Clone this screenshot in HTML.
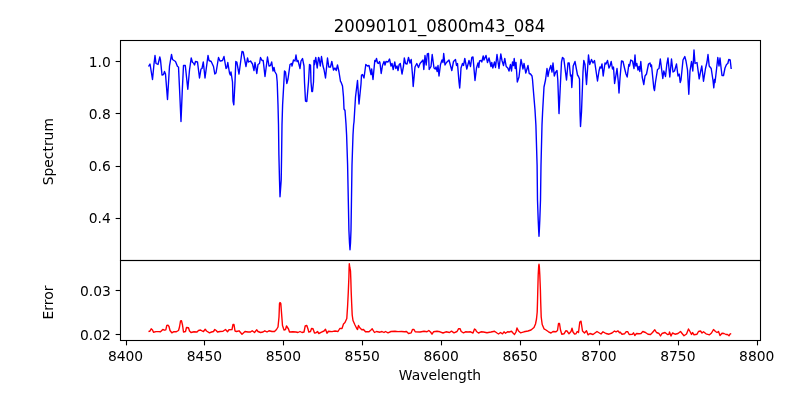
<!DOCTYPE html><html><head><meta charset="utf-8"><title>20090101_0800m43_084</title>
<style>html,body{margin:0;padding:0;background:#fff}svg{display:block;will-change:transform}text{font-family:"DejaVu Sans","Liberation Sans",sans-serif;fill:#000}</style></head><body>
<svg width="800" height="400" viewBox="0 0 800 400">
<rect width="800" height="400" fill="#fff"/>
<polyline fill="none" stroke="#0000ff" stroke-width="1.39" stroke-linejoin="round" points="148.50,66.50 150.00,64.00 150.50,67.00 152.50,79.50 154.00,64.00 155.00,55.50 156.00,63.50 158.00,64.50 159.80,57.00 160.50,60.00 162.00,75.00 163.50,74.50 164.50,71.50 165.50,74.00 167.50,99.50 169.50,66.00 171.50,54.50 172.50,59.50 175.50,61.50 177.50,66.50 178.50,67.00 179.60,90.00 181.00,121.50 182.30,90.00 183.50,65.50 185.30,65.50 187.80,89.20 189.50,70.00 191.20,58.00 192.50,62.50 193.50,63.00 194.50,65.00 195.50,61.50 197.50,62.00 199.50,78.00 201.00,69.00 202.00,68.50 203.30,62.00 205.00,78.00 208.00,55.50 209.00,60.50 211.20,61.50 213.50,66.50 214.80,74.00 216.00,73.00 218.50,57.50 220.00,61.00 220.50,61.00 222.50,60.50 224.00,56.50 226.00,68.50 226.80,68.00 227.80,62.50 229.50,73.00 230.30,75.00 231.00,72.00 232.50,82.00 233.00,101.00 233.80,104.80 235.00,82.00 235.80,61.50 236.80,62.00 239.00,74.00 242.00,51.50 243.20,52.00 246.00,66.50 247.50,58.00 248.50,62.00 250.50,61.00 252.50,64.00 254.00,70.50 255.00,62.50 256.80,73.50 258.00,64.50 259.50,63.50 260.50,57.50 262.00,60.50 263.20,60.50 265.00,76.50 267.50,57.00 269.00,66.00 270.50,65.50 271.70,62.00 273.00,71.00 274.00,67.50 274.80,71.50 276.50,74.50 277.20,82.00 278.00,105.00 278.50,125.00 278.90,155.00 279.50,180.00 280.00,196.70 281.20,180.00 281.60,155.00 282.00,125.00 282.60,105.00 283.90,82.00 284.50,71.00 285.50,72.00 286.80,83.50 288.00,79.00 290.00,64.50 291.50,63.50 292.00,66.00 293.50,60.00 295.00,61.00 296.00,55.00 297.00,61.50 298.00,60.50 300.00,68.50 301.00,61.00 302.50,58.50 304.00,66.00 304.50,82.00 305.50,101.00 306.80,101.50 308.50,82.00 309.50,64.50 310.50,65.00 311.00,82.00 311.80,91.50 312.50,91.50 313.50,82.00 314.00,60.50 314.50,64.50 315.80,57.50 317.20,68.00 318.50,57.50 319.00,58.00 320.30,66.00 321.50,56.50 323.00,66.00 324.00,69.50 325.50,78.00 327.50,58.00 328.80,67.00 330.50,67.00 331.80,61.50 333.50,70.00 335.00,68.00 336.20,70.50 337.50,65.00 339.00,72.00 340.50,81.50 341.00,82.00 342.50,86.00 343.50,97.00 344.00,109.00 345.00,110.50 346.00,124.00 346.60,135.00 347.60,165.00 348.40,205.00 348.90,230.00 349.50,243.00 350.00,249.80 350.50,243.00 351.00,230.00 351.40,205.00 352.00,165.00 353.00,135.00 353.60,125.00 354.00,122.00 355.50,97.00 357.50,80.50 359.00,104.00 361.00,84.00 361.50,75.00 362.50,74.50 364.00,78.00 365.80,64.50 367.50,66.00 369.00,65.50 371.00,74.50 371.70,69.00 373.00,79.50 374.80,60.50 375.50,61.50 376.50,58.50 377.50,63.00 378.50,63.50 379.50,61.50 380.00,63.00 381.20,73.50 382.50,65.50 384.00,61.50 385.00,65.00 386.00,61.50 388.00,62.00 389.50,59.00 391.00,66.00 392.00,63.50 393.20,69.50 394.80,62.00 395.80,68.50 397.00,66.00 398.00,70.50 399.20,64.50 400.30,63.50 402.00,74.00 403.50,66.00 404.30,58.00 405.50,63.50 407.00,64.00 408.50,57.50 410.00,63.00 411.20,59.50 412.50,75.00 413.20,86.50 414.00,78.00 415.00,67.00 416.80,63.50 418.50,67.50 420.00,63.50 423.00,60.00 423.80,69.50 425.00,55.50 426.20,65.00 427.30,54.00 428.50,53.50 429.20,69.50 431.00,66.50 432.20,54.50 434.00,68.00 435.20,69.00 436.00,67.00 437.20,71.50 438.00,65.50 439.00,76.00 440.50,64.50 442.00,60.00 443.00,62.50 443.70,53.50 445.00,65.00 446.50,62.50 449.00,60.00 451.80,70.50 453.50,61.50 455.50,59.50 456.50,65.50 457.50,63.50 459.00,82.00 459.70,88.00 460.30,80.00 461.00,68.00 462.50,63.50 463.50,65.50 464.80,58.50 466.80,69.00 469.00,60.50 470.50,66.50 471.80,57.50 473.00,57.00 475.00,80.50 476.50,68.00 478.00,63.00 478.80,67.50 479.50,61.00 481.00,60.50 481.80,62.00 483.20,56.00 484.00,60.00 486.00,55.50 487.50,62.50 489.00,58.00 491.00,66.50 491.80,62.50 492.80,68.00 494.50,62.00 495.50,67.50 497.00,54.50 499.00,68.50 500.80,54.00 502.00,60.50 503.50,65.50 504.80,58.50 506.20,66.50 507.80,68.00 509.00,71.00 510.50,64.50 511.50,71.00 512.50,62.00 513.50,65.50 514.20,58.50 515.20,68.50 516.00,62.50 517.30,82.00 519.00,77.00 521.00,59.50 523.00,69.00 524.00,63.50 525.80,73.00 528.00,65.50 529.20,73.50 530.50,74.00 532.00,76.00 532.50,79.50 533.50,92.00 535.00,110.00 535.90,125.00 537.10,165.00 537.50,200.00 538.20,220.00 538.70,231.00 539.00,236.30 539.30,231.00 539.80,220.00 540.50,200.00 541.00,165.00 542.00,125.00 542.60,112.00 544.00,87.00 545.50,80.00 547.00,68.50 548.00,76.50 549.00,71.00 550.80,65.50 552.00,72.00 553.00,63.00 554.30,76.00 555.50,72.50 557.00,70.50 557.80,80.00 559.00,113.60 560.50,82.00 561.50,62.00 562.50,57.50 563.80,58.50 566.50,80.00 568.00,63.00 569.20,63.00 570.50,76.00 571.20,75.00 571.80,87.50 573.20,66.00 575.00,61.50 577.50,75.00 578.50,76.50 579.50,79.00 580.00,112.00 580.50,126.50 581.50,112.00 583.00,72.00 583.80,60.50 585.00,64.50 586.50,84.50 588.50,55.00 589.70,64.50 591.50,59.50 593.00,63.00 594.50,60.50 597.50,81.00 599.00,71.00 600.00,67.00 601.00,68.00 602.00,64.00 603.20,76.00 605.00,63.00 606.00,64.00 607.50,60.50 609.00,68.00 610.00,66.00 611.20,61.50 612.50,69.00 613.50,67.00 614.60,83.50 617.00,68.50 618.30,82.00 619.00,93.00 620.00,78.00 621.50,61.00 623.00,61.50 624.50,68.00 626.00,74.00 627.20,77.00 628.80,64.50 629.50,66.00 630.80,60.00 632.50,61.00 634.00,68.50 635.00,55.00 635.80,66.00 636.80,63.50 638.00,70.00 639.00,66.50 639.80,71.50 640.80,61.50 642.20,77.00 643.80,84.50 645.00,76.00 646.50,74.00 648.50,64.00 650.00,63.00 650.80,66.50 651.50,65.00 653.00,80.00 653.80,88.00 654.50,90.50 655.50,82.00 657.50,69.50 659.00,68.50 660.30,59.00 662.80,78.50 663.80,71.00 665.50,76.50 666.80,64.50 668.00,58.00 669.80,77.00 671.50,59.00 673.00,72.00 674.50,71.00 676.50,64.00 678.00,76.00 679.20,74.00 680.20,82.50 681.00,80.00 683.00,60.00 684.80,56.50 686.00,61.00 687.50,70.00 688.80,94.20 690.00,71.00 691.50,61.50 692.80,71.00 694.00,50.00 695.00,63.50 697.00,62.50 699.20,78.80 700.50,72.00 701.80,66.00 703.50,81.20 705.50,68.50 707.00,62.00 708.00,54.50 709.20,66.00 711.20,68.50 713.00,80.50 713.80,87.80 714.50,79.50 715.00,82.50 716.50,69.50 717.80,57.50 719.00,66.00 720.00,58.00 721.20,69.00 722.00,75.50 723.50,75.50 725.00,68.00 726.50,64.50 727.80,63.50 728.80,59.50 730.20,60.00 731.20,69.00"/>
<polyline fill="none" stroke="#ff0000" stroke-width="1.39" stroke-linejoin="round" points="148.50,331.70 150.00,331.00 151.20,328.80 152.50,330.00 153.50,332.20 156.00,331.60 158.50,331.60 160.50,331.80 162.80,329.50 164.50,330.20 165.80,329.80 166.80,325.50 168.00,325.20 169.00,326.50 170.00,330.50 171.80,332.80 173.50,331.80 176.00,331.80 178.50,330.50 179.50,327.00 180.50,321.00 181.50,320.80 182.50,325.00 183.50,332.00 185.50,331.50 186.50,327.50 188.50,327.80 189.50,331.00 191.00,332.50 194.00,331.80 197.00,332.00 198.50,330.50 200.50,330.00 202.00,330.80 203.50,331.50 205.20,329.20 206.50,331.00 209.50,332.80 211.50,332.00 213.50,331.50 214.80,329.50 216.20,330.50 217.50,332.00 220.00,331.50 223.00,331.30 225.50,329.50 227.50,331.70 229.00,329.80 232.00,329.50 233.00,324.50 234.00,324.50 235.00,331.00 236.50,331.50 239.00,330.80 242.00,334.20 245.00,331.50 248.00,332.00 250.50,332.00 252.20,330.80 254.50,332.50 256.80,329.80 258.00,331.50 260.50,332.50 263.00,332.00 264.80,330.80 267.00,332.00 269.00,330.80 272.00,331.50 274.50,331.50 276.50,329.50 278.00,327.00 279.00,317.00 279.50,303.50 280.00,302.50 280.80,303.50 281.30,310.00 282.50,325.50 284.00,330.00 285.50,329.50 286.50,326.00 288.50,329.00 289.50,332.00 293.00,331.80 296.00,332.00 298.00,332.50 300.00,331.50 302.00,332.50 304.00,332.00 305.20,326.00 306.80,325.50 308.00,329.00 308.80,332.00 310.50,331.50 311.50,328.50 313.00,328.80 314.50,333.00 316.00,332.80 317.50,331.50 318.80,333.50 321.50,332.20 324.00,331.00 325.50,329.20 327.00,333.20 328.50,331.30 332.00,331.60 335.00,331.00 338.00,331.50 339.80,328.50 342.00,328.50 343.50,324.00 345.00,322.50 346.80,318.50 347.60,306.00 348.30,292.00 348.90,277.00 349.10,268.00 349.30,263.80 349.80,267.50 350.50,271.00 350.85,280.00 351.20,292.00 351.70,304.00 352.20,315.00 353.00,320.50 355.00,325.00 356.50,328.00 357.50,329.50 358.50,325.50 360.00,328.00 361.80,329.80 363.50,329.50 365.50,331.80 369.00,331.80 371.00,330.00 372.20,328.80 374.50,332.50 376.50,331.50 380.00,332.20 382.00,331.50 384.00,332.50 385.50,331.50 388.00,332.80 391.00,331.50 395.00,331.20 398.00,331.60 401.50,331.50 404.50,331.80 406.50,331.50 408.50,333.50 411.20,332.80 412.50,329.50 414.00,329.50 415.20,331.80 420.00,332.00 424.00,331.20 427.00,331.80 428.80,330.50 430.50,332.00 432.00,334.20 433.50,331.80 437.00,331.20 440.00,331.80 443.00,333.00 446.00,331.80 449.50,332.50 451.50,331.20 454.00,332.80 457.00,331.50 458.50,328.80 460.00,328.60 461.20,331.50 463.50,332.80 465.50,331.80 468.00,332.00 470.50,331.80 473.00,333.00 474.50,329.00 475.50,329.50 476.50,331.50 478.50,333.00 481.00,331.80 483.50,332.00 487.00,332.80 491.00,332.00 494.50,331.20 497.00,333.00 498.50,334.00 500.50,332.50 502.50,333.80 504.00,331.80 505.50,333.20 507.50,331.80 509.50,332.00 511.50,331.20 513.00,333.00 514.50,334.50 516.00,332.00 517.00,328.00 518.50,331.00 520.50,332.80 524.00,331.80 528.00,331.00 531.00,330.00 534.00,327.50 535.50,324.00 536.50,319.00 537.20,312.00 537.50,302.00 537.80,290.00 538.20,275.00 538.70,266.00 539.00,264.30 539.30,266.00 539.80,275.00 540.40,290.00 540.70,302.00 541.20,317.00 542.20,324.50 544.00,328.80 546.00,330.00 548.50,331.80 551.00,333.00 553.00,331.50 556.00,331.80 557.50,330.50 558.50,323.50 559.50,323.50 560.50,330.00 561.80,334.20 564.00,333.80 565.80,330.80 567.00,331.00 569.00,333.80 571.00,331.50 572.00,328.20 573.00,332.00 574.50,334.00 576.00,333.80 577.20,331.50 578.50,332.50 579.80,322.00 581.00,321.20 582.50,331.00 584.50,333.00 586.50,330.80 588.00,334.80 590.00,333.50 593.00,334.50 597.00,331.50 601.00,334.00 603.00,331.80 606.00,333.50 609.00,334.20 612.00,333.00 614.50,331.00 616.00,331.80 618.00,330.80 619.50,332.80 620.00,332.00 622.00,334.20 624.50,333.80 626.00,331.80 627.80,331.80 629.20,334.50 632.50,334.20 633.50,332.80 634.80,335.50 636.50,333.50 639.00,333.80 641.00,333.50 642.80,331.50 645.50,332.50 648.00,334.20 650.50,334.50 652.50,332.50 654.80,329.80 656.50,332.50 659.00,333.50 660.50,336.00 662.00,333.50 665.00,332.50 667.50,334.50 669.00,334.20 669.50,332.00 671.00,336.00 672.50,333.00 675.00,334.20 678.00,333.50 680.50,331.50 682.50,334.00 684.00,335.80 686.50,334.00 688.50,329.00 690.00,331.50 691.50,334.50 692.50,332.50 694.00,334.80 697.00,334.20 698.50,331.50 700.50,331.00 702.00,333.00 703.50,331.80 706.00,333.80 709.50,334.80 711.50,333.00 713.50,329.50 715.50,331.50 717.00,332.50 718.50,331.50 720.00,335.50 722.00,333.20 724.00,333.50 726.00,334.50 727.50,334.50 729.00,335.80 730.00,334.20 731.20,333.50"/>
<g fill="none" stroke="#000" stroke-width="1.1" stroke-linecap="square"><rect x="120.5" y="40.5" width="640.0" height="220.0"/><rect x="120.5" y="260.5" width="640.0" height="80.0"/></g>
<g stroke="#000" stroke-width="1.1">
<line x1="126.5" x2="126.5" y1="340.5" y2="345.36"/>
<line x1="204.5" x2="204.5" y1="340.5" y2="345.36"/>
<line x1="283.5" x2="283.5" y1="340.5" y2="345.36"/>
<line x1="362.5" x2="362.5" y1="340.5" y2="345.36"/>
<line x1="441.5" x2="441.5" y1="340.5" y2="345.36"/>
<line x1="520.5" x2="520.5" y1="340.5" y2="345.36"/>
<line x1="599.5" x2="599.5" y1="340.5" y2="345.36"/>
<line x1="678.5" x2="678.5" y1="340.5" y2="345.36"/>
<line x1="757.5" x2="757.5" y1="340.5" y2="345.36"/>
<line x1="115.64" x2="120.5" y1="61.5" y2="61.5"/>
<line x1="115.64" x2="120.5" y1="113.5" y2="113.5"/>
<line x1="115.64" x2="120.5" y1="166.5" y2="166.5"/>
<line x1="115.64" x2="120.5" y1="218.5" y2="218.5"/>
<line x1="115.64" x2="120.5" y1="290.5" y2="290.5"/>
<line x1="115.64" x2="120.5" y1="334.5" y2="334.5"/>
</g>
<g font-size="13.89px">
<text x="125.55" y="361" text-anchor="middle">8400</text>
<text x="204.45" y="361" text-anchor="middle">8450</text>
<text x="283.35" y="361" text-anchor="middle">8500</text>
<text x="362.25" y="361" text-anchor="middle">8550</text>
<text x="441.15" y="361" text-anchor="middle">8600</text>
<text x="520.05" y="361" text-anchor="middle">8650</text>
<text x="598.95" y="361" text-anchor="middle">8700</text>
<text x="677.85" y="361" text-anchor="middle">8750</text>
<text x="756.75" y="361" text-anchor="middle">8800</text>
<text x="110.8" y="66.75" text-anchor="end">1.0</text>
<text x="110.8" y="118.75" text-anchor="end">0.8</text>
<text x="110.8" y="170.75" text-anchor="end">0.6</text>
<text x="110.8" y="222.75" text-anchor="end">0.4</text>
<text x="110.8" y="295.85" text-anchor="end">0.03</text>
<text x="110.8" y="339.75" text-anchor="end">0.02</text>
<text x="440" y="380" text-anchor="middle">Wavelength</text>
<text transform="translate(53,151.7) rotate(-90)" text-anchor="middle">Spectrum</text>
<text transform="translate(53,302.5) rotate(-90)" text-anchor="middle">Error</text>
</g>
<text transform="translate(439.5,31.6) scale(0.993,1.08)" text-anchor="middle" font-size="16.67px">20090101_0800m43_084</text>
</svg></body></html>
